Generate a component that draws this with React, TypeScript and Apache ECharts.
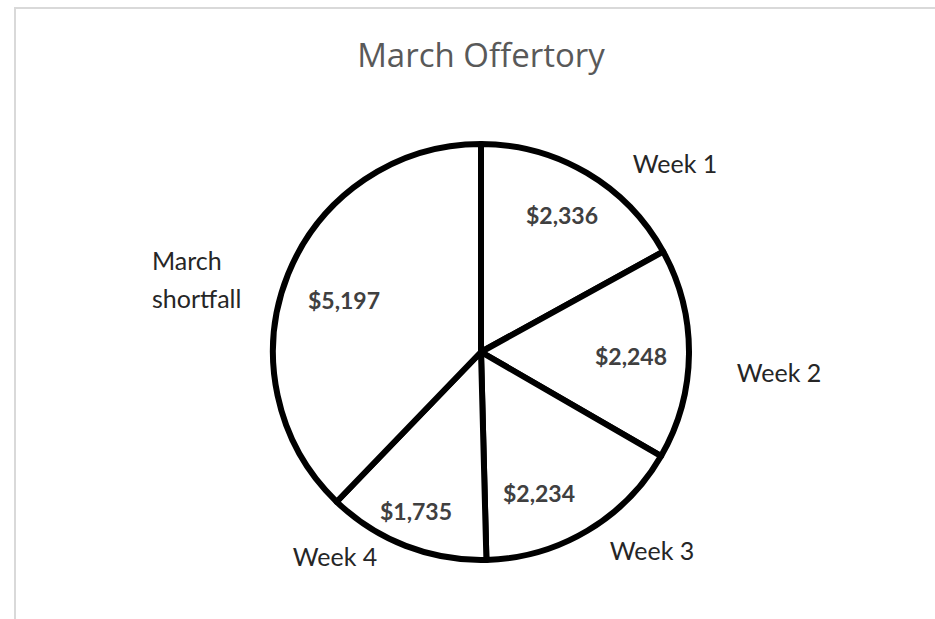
import React, { useEffect, useRef } from "react";
import * as echarts from "echarts";

const categories = ["Week 1", "Week 2", "Week 3", "Week 4", "March\nshortfall"];
const values = [2336, 2248, 2234, 1735, 5197];
const titleText = "March Offertory";

// label placement (offsets from pie centre, px)
const nameLabelOffsets: [number, number, string][] = [
  [194, -189, "center"],
  [298, 20, "center"],
  [171, 198, "center"],
  [-146, 204, "center"],
  [-329, -73, "left"],
];
const valueLabelOffsets: [number, number][] = [
  [81, -137],
  [150, 4],
  [58, 141],
  [-65, 159],
  [-137, -52],
];

const CX = 481;
const CY = 352;
const FONT = "Lato, 'Open Sans', sans-serif";

const fmt = (v: number) => "$" + v.toLocaleString("en-US");

export default function App() {
  const ref = useRef<HTMLDivElement>(null);
  useEffect(() => {
    if (!ref.current) return;
    const chart = echarts.init(ref.current, null, { renderer: "svg" });
    const data = categories.map((c, i) => ({ name: c, value: values[i] }));
    chart.setOption({
      animation: false,
      backgroundColor: "#ffffff",
      title: {
        text: titleText,
        left: 476,
        textAlign: "center",
        top: 33,
        textStyle: { color: "#595959", fontSize: 33, fontWeight: "normal", fontFamily: "'Open Sans', sans-serif" },
      },
      graphic: [
        {
          type: "rect",
          shape: { x: 15, y: 8, width: 1000, height: 1000 },
          style: { fill: "none", stroke: "#d9d9d9", lineWidth: 2 },
          silent: true,
        },
      ],
      series: [
        {
          type: "pie",
          center: [CX, CY],
          radius: 208,
          startAngle: 90,
          clockwise: true,
          data,
          itemStyle: { color: "#ffffff", borderColor: "#000000", borderWidth: 6 },
          emphasis: { disabled: true },
          label: {
            show: true,
            position: "outside",
            formatter: "{b}",
            color: "#262626",
            fontSize: 25,
            fontFamily: FONT,
            lineHeight: 38,
          },
          labelLine: { show: false },
          labelLayout: (p: any) => {
            const o = nameLabelOffsets[p.dataIndex];
            return { x: CX + o[0], y: CY + o[1], align: o[2], verticalAlign: "middle" };
          },
        },
        {
          type: "pie",
          center: [CX, CY],
          radius: [96, 208],
          startAngle: 90,
          clockwise: true,
          silent: true,
          z: 3,
          data,
          itemStyle: { color: "rgba(0,0,0,0)", borderWidth: 0 },
          emphasis: { disabled: true },
          label: {
            show: true,
            position: "inside",
            formatter: (p: any) => fmt(p.value),
            color: "#404040",
            fontSize: 23,
            fontWeight: "bold",
            fontFamily: FONT,
          },
          labelLine: { show: false },
          labelLayout: (p: any) => {
            const o = valueLabelOffsets[p.dataIndex];
            return { x: CX + o[0], y: CY + o[1], align: "center", verticalAlign: "middle" };
          },
        },
      ],
    });
    return () => chart.dispose();
  }, []);
  return (
    <div
      ref={ref}
      style={{ position: "fixed", left: 0, top: 0, width: 935, height: 619 }}
    />
  );
}
